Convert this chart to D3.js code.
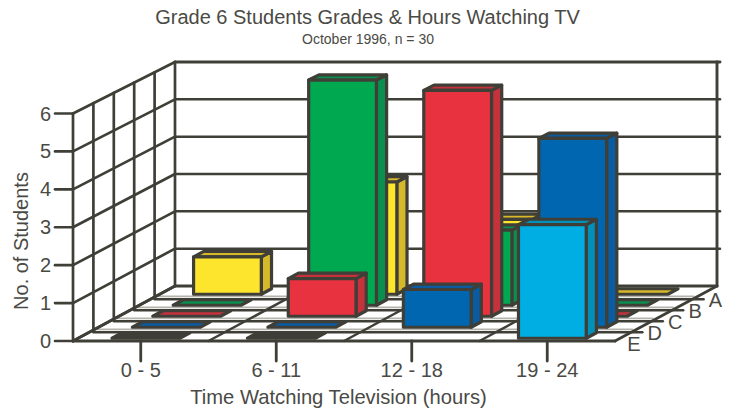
<!DOCTYPE html>
<html>
<head>
<meta charset="utf-8">
<script src="https://d3js.org/d3.v7.min.js"></script>
<style>
html, body { margin: 0; padding: 0; background: #fff; }
text { font-family: "Liberation Sans", Arial, sans-serif; fill: #4a4a45; }
</style>
</head>
<body>
<svg id="chart" width="733" height="410"></svg>
<script>
const categories = ["0 - 5", "6 - 11", "12 - 18", "19 - 24"];
const grades = ["E", "D", "C", "B", "A"]; // front to back
const yTicks = [0, 1, 2, 3, 4, 5, 6];

// null = no bar drawn at all in that cell
const gradeA = [1, 3, 2, 0];
const gradeB = [0, 6, 2, 0];
const gradeC = [0, 1, 6, 0];
const gradeD = [0, 0, 1, 5];
const gradeE = [0, 0, null, 3];

const faceColors = ["#00aee3", "#0066b0", "#e93240", "#00a84f", "#fde52e"];
const sideColors = ["#0090b8", "#0a5ba0", "#c6323c", "#0b8f4e", "#d6b92b"];

const ink = "#3f3f38";
const floorShine = "#b4b4ac";

var svg = d3.select("#chart");

// front edge of the floor
var x0 = 73, x1 = 615, floorY = 341;
// how far the back wall is pushed
var depthX = 102, depthY = 55;

var x = d3.scaleBand().domain(categories).range([x0, x1])
	.paddingInner(0.5).paddingOuter(0.25);
var xCell = d3.scaleBand().domain(categories).range([x0, x1]);
var depth = d3.scaleBand().domain(grades).range([0, 1])
	.paddingInner(0.5).paddingOuter(0.25);
var depthCell = d3.scaleBand().domain(grades).range([0, 1]);
var yFront = d3.scaleLinear().domain([0, 6]).range([0, 227.5]);
var yBack = d3.scaleLinear().domain([0, 6]).range([0, 224]);

function px(xv, d) { return xv + depthX * d; }
function py(v, d) {
	return floorY - depthY * d - (yFront(v) + (yBack(v) - yFront(v)) * d);
}
function pt(xv, d, v) { return [px(xv, d), py(v, d)]; }
function poly(points) { return "M" + points.map(p => p.join(",")).join("L") + "Z"; }

var line = function(g, a, b, w, color) {
	g.append("line")
		.attr("x1", a[0]).attr("y1", a[1])
		.attr("x2", b[0]).attr("y2", b[1])
		.attr("stroke", color || ink)
		.attr("stroke-width", w || 2.7)
		.attr("stroke-linecap", "round");
};

/* walls and floor */
var gGrid = svg.append("g").attr("class", "grid");

// floor lines between the grade rows
var rowEdges = d3.range(1, grades.length).map(i => depthCell.step() * i);
rowEdges.forEach(function(d) {
	var left = pt(x0, d, 0), right = pt(x1, d, 0);
	line(gGrid, [left[0] + 4, left[1] - 0.6], [right[0] - 3, right[1] - 0.6], 1.8, floorShine);
	line(gGrid, [left[0], left[1] + 2.3], [right[0] + 7, right[1] + 2.3], 2.5);
});

// lines running back across the floor
xCell.domain().slice(1).forEach(function(c) {
	line(gGrid, pt(xCell(c), 0, 0), pt(xCell(c), 1, 0), 2.5);
});
line(gGrid, pt(x0, 0, 0), pt(x0, 1, 0));
line(gGrid, pt(x1, 0, 0), pt(x1, 1, 0));
line(gGrid, pt(x0, 1, 0), pt(x1, 1, 0), 3.2);

// left wall
yTicks.forEach(function(v) {
	line(gGrid, pt(x0, 0, v), pt(x0, 1, v));
	if (v > 0) line(gGrid, pt(x0, 1, v), [px(x1, 1) + 3, py(v, 1)], v == 6 ? 2.9 : 2.5);
});
d3.range(0, grades.length + 1).forEach(function(i) {
	var d = depthCell.step() * i;
	line(gGrid, pt(x0, d, 0), pt(x0, d, 6));
});
line(gGrid, pt(x1, 1, 0), pt(x1, 1, 6), 2.9);
line(gGrid, pt(x0, 0, 0), pt(x1, 0, 0), 3);

/* bars, back row first so the front ones sit on top */
var gBars = svg.append("g").attr("class", "bars");
var series = [gradeE, gradeD, gradeC, gradeB, gradeA];

d3.range(grades.length - 1, -1, -1).forEach(function(r) {
	series[r].forEach(function(v, i) {
		if (v === null) return;
		var c = categories[i];
		var xa = x(c), xb = x(c) + x.bandwidth();
		var da = depth(grades[r]), db = da + depth.bandwidth();
		var g = gBars.append("g")
			.attr("stroke", ink).attr("stroke-width", 3.2).attr("stroke-linejoin", "round");

		// the front row's empty cells read as a solid dark strip
		var topColor = (v == 0 && r == 0) ? ink : sideColors[r];

		if (v > 0) {
			g.append("path").attr("fill", sideColors[r])
				.attr("d", poly([pt(xb, da, 0), pt(xb, db, 0), pt(xb, db, v), pt(xb, da, v)]));
		}
		g.append("path").attr("fill", topColor)
			.attr("d", poly([pt(xa, da, v), pt(xb, da, v), pt(xb, db, v), pt(xa, db, v)]));
		if (v > 0) {
			g.append("path").attr("fill", faceColors[r])
				.attr("d", poly([pt(xa, da, 0), pt(xb, da, 0), pt(xb, da, v), pt(xa, da, v)]));
		}
	});
});

/* axes */
var gAxis = svg.append("g").attr("class", "axes");

yTicks.forEach(function(v) {
	var p = pt(x0, 0, v);
	line(gAxis, [p[0] - 18, p[1]], p, 2.6);
	gAxis.append("text")
		.attr("x", p[0] - 22).attr("y", p[1] + 7)
		.attr("text-anchor", "end").attr("font-size", 20)
		.text(v);
});

categories.forEach(function(c) {
	var cx = xCell(c) + xCell.bandwidth() / 2;
	line(gAxis, [cx, floorY], [cx, floorY + 20], 2.8);
	gAxis.append("text")
		.attr("x", cx).attr("y", floorY + 36)
		.attr("text-anchor", "middle").attr("font-size", 20)
		.text(c);
});

grades.forEach(function(g) {
	var d = depthCell(g) + depthCell.bandwidth() / 2;
	gAxis.append("text")
		.attr("x", px(x1, d) + 2).attr("y", py(0, d) + 15.5)
		.attr("font-size", 20)
		.text(g);
});

/* titles */
svg.append("text")
	.attr("x", 367.5).attr("y", 24)
	.attr("text-anchor", "middle").attr("font-size", 20)
	.text("Grade 6 Students Grades & Hours Watching TV");
svg.append("text")
	.attr("x", 368).attr("y", 44)
	.attr("text-anchor", "middle").attr("font-size", 14)
	.text("October 1996, n = 30");
svg.append("text")
	.attr("x", 338.5).attr("y", 404)
	.attr("text-anchor", "middle").attr("font-size", 20.2)
	.text("Time Watching Television (hours)");
svg.append("text")
	.attr("transform", "translate(28,241) rotate(-90)")
	.attr("text-anchor", "middle").attr("font-size", 20)
	.text("No. of Students");
</script>
</body>
</html>
